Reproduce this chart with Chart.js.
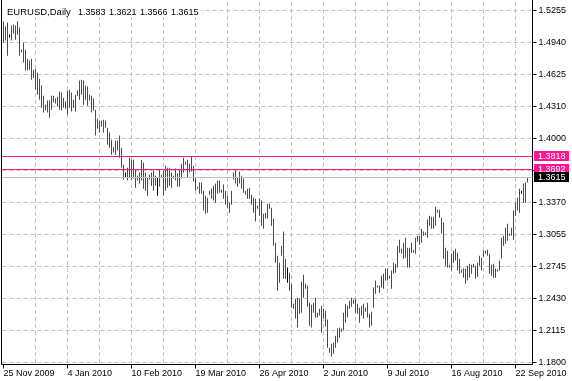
<!DOCTYPE html>
<html>
<head>
<meta charset="utf-8">
<script src="https://cdn.jsdelivr.net/npm/chart.js@4.4.1/dist/chart.umd.min.js"></script>
<style>
  html, body { margin: 0; padding: 0; background: #fff; }
  canvas { display: block; }
</style>
</head>
<body>
<canvas id="priceChart" width="572" height="381"></canvas>
<script>
// EURUSD daily bars, 25 Nov 2009 .. 22 Sep 2010
const symbolTitle = 'EURUSD,Daily';
const lastBar = [1.3583, 1.3621, 1.3566, 1.3615]; // O H L C in the corner

const xTickLabels = ['25 Nov 2009', '4 Jan 2010', '10 Feb 2010', '19 Mar 2010', '26 Apr 2010',
  '2 Jun 2010', '9 Jul 2010', '16 Aug 2010', '22 Sep 2010'];
const yTickLabels = ['1.1800', '1.2115', '1.2430', '1.2745', '1.3055', '1.3370',
  '1.3685', '1.4000', '1.4310', '1.4625', '1.4940', '1.5255'];

const highs = [
  1.5147, 1.5097, 1.5137, 1.5019, 1.5107, 1.5117, 1.5107, 1.5147, 1.5087, 1.4870,
  1.4940, 1.4870, 1.4782, 1.4764, 1.4782, 1.4674, 1.4684, 1.4646, 1.4586, 1.4518,
  1.4419, 1.4331, 1.4371, 1.4371, 1.4419, 1.4419, 1.4391, 1.4409, 1.4459, 1.4449,
  1.4399, 1.4361, 1.4469, 1.4478, 1.4449, 1.4379, 1.4429, 1.4469, 1.4568, 1.4576,
  1.4568, 1.4518, 1.4508, 1.4429, 1.4419, 1.4391, 1.4281, 1.4193, 1.4175, 1.4175,
  1.4183, 1.4175, 1.4105, 1.4057, 1.3987, 1.3918, 1.3978, 1.3978, 1.4027, 1.3908,
  1.3742, 1.3664, 1.3712, 1.3810, 1.3790, 1.3790, 1.3694, 1.3634, 1.3664, 1.3790,
  1.3762, 1.3664, 1.3614, 1.3644, 1.3664, 1.3684, 1.3634, 1.3614, 1.3694, 1.3644,
  1.3684, 1.3732, 1.3712, 1.3712, 1.3664, 1.3634, 1.3704, 1.3654, 1.3684, 1.3752,
  1.3810, 1.3772, 1.3790, 1.3752, 1.3820, 1.3732, 1.3614, 1.3526, 1.3566, 1.3566,
  1.3487, 1.3437, 1.3417, 1.3487, 1.3506, 1.3536, 1.3556, 1.3586, 1.3586, 1.3496,
  1.3546, 1.3487, 1.3437, 1.3369, 1.3487, 1.3664, 1.3684, 1.3614, 1.3674, 1.3634,
  1.3606, 1.3487, 1.3506, 1.3516, 1.3447, 1.3417, 1.3407, 1.3339, 1.3407, 1.3389,
  1.3261, 1.3271, 1.3359, 1.3359, 1.3319, 1.3213, 1.2976, 1.2848, 1.2780, 1.2946,
  1.3085, 1.2818, 1.2732, 1.2682, 1.2574, 1.2377, 1.2425, 1.2435, 1.2425, 1.2594,
  1.2662, 1.2574, 1.2555, 1.2387, 1.2367, 1.2387, 1.2435, 1.2289, 1.2327, 1.2357,
  1.2327, 1.2309, 1.2221, 1.1946, 1.1984, 1.1994, 1.2063, 1.2133, 1.2143, 1.2133,
  1.2289, 1.2377, 1.2357, 1.2407, 1.2435, 1.2417, 1.2425, 1.2377, 1.2337, 1.2357,
  1.2377, 1.2337, 1.2387, 1.2279, 1.2299, 1.2535, 1.2604, 1.2555, 1.2555, 1.2652,
  1.2672, 1.2722, 1.2722, 1.2652, 1.2702, 1.2780, 1.2770, 1.2946, 1.3006, 1.2916,
  1.2976, 1.3025, 1.2926, 1.2926, 1.2976, 1.2906, 1.3025, 1.3045, 1.3045, 1.3113,
  1.3085, 1.3075, 1.3203, 1.3241, 1.3231, 1.3231, 1.3329, 1.3299, 1.3299, 1.3221,
  1.3173, 1.2926, 1.2898, 1.2760, 1.2868, 1.2898, 1.2916, 1.2878, 1.2818, 1.2712,
  1.2722, 1.2722, 1.2750, 1.2770, 1.2760, 1.2770, 1.2750, 1.2780, 1.2848, 1.2828,
  1.2898, 1.2898, 1.2906, 1.2868, 1.2760, 1.2770, 1.2722, 1.2712, 1.2800, 1.3025,
  1.3045, 1.3123, 1.3163, 1.3065, 1.3123, 1.3291, 1.3369, 1.3417, 1.3506, 1.3487,
  1.3556, 1.3566, 1.3621
];
const lows = [
  1.4940, 1.4960, 1.4812, 1.4989, 1.4960, 1.5029, 1.4969, 1.5019, 1.4812, 1.4842,
  1.4744, 1.4666, 1.4666, 1.4674, 1.4576, 1.4596, 1.4478, 1.4429, 1.4379, 1.4301,
  1.4253, 1.4273, 1.4253, 1.4203, 1.4281, 1.4351, 1.4341, 1.4311, 1.4281, 1.4273,
  1.4301, 1.4291, 1.4233, 1.4301, 1.4263, 1.4301, 1.4263, 1.4419, 1.4379, 1.4429,
  1.4331, 1.4379, 1.4321, 1.4371, 1.4253, 1.4273, 1.4027, 1.4095, 1.4057, 1.4115,
  1.4057, 1.4105, 1.3938, 1.3908, 1.3840, 1.3860, 1.3840, 1.3880, 1.3810, 1.3712,
  1.3596, 1.3614, 1.3586, 1.3614, 1.3596, 1.3606, 1.3516, 1.3586, 1.3556, 1.3586,
  1.3506, 1.3487, 1.3437, 1.3596, 1.3536, 1.3487, 1.3536, 1.3437, 1.3526, 1.3614,
  1.3437, 1.3487, 1.3516, 1.3536, 1.3516, 1.3606, 1.3586, 1.3526, 1.3526, 1.3606,
  1.3664, 1.3742, 1.3614, 1.3664, 1.3674, 1.3576, 1.3487, 1.3506, 1.3457, 1.3457,
  1.3291, 1.3261, 1.3271, 1.3447, 1.3407, 1.3389, 1.3369, 1.3457, 1.3467, 1.3467,
  1.3407, 1.3349, 1.3319, 1.3271, 1.3349, 1.3596, 1.3556, 1.3526, 1.3556, 1.3506,
  1.3467, 1.3447, 1.3407, 1.3407, 1.3349, 1.3271, 1.3183, 1.3309, 1.3241, 1.3143,
  1.3113, 1.3213, 1.3213, 1.3309, 1.3143, 1.2946, 1.2780, 1.2505, 1.2584, 1.2848,
  1.2622, 1.2622, 1.2584, 1.2505, 1.2337, 1.2327, 1.2231, 1.2143, 1.2279, 1.2289,
  1.2435, 1.2525, 1.2347, 1.2161, 1.2143, 1.2289, 1.2241, 1.2241, 1.2261, 1.2093,
  1.2231, 1.2153, 1.1946, 1.1896, 1.1856, 1.1886, 1.1946, 1.1994, 1.2044, 1.2103,
  1.2113, 1.2191, 1.2241, 1.2327, 1.2347, 1.2377, 1.2289, 1.2279, 1.2191, 1.2261,
  1.2231, 1.2299, 1.2241, 1.2143, 1.2161, 1.2337, 1.2475, 1.2535, 1.2485, 1.2535,
  1.2525, 1.2604, 1.2604, 1.2622, 1.2525, 1.2672, 1.2682, 1.2732, 1.2878, 1.2868,
  1.2818, 1.2828, 1.2732, 1.2732, 1.2878, 1.2878, 1.2868, 1.2986, 1.2956, 1.2976,
  1.3045, 1.3055, 1.3025, 1.3143, 1.3113, 1.3113, 1.3143, 1.3271, 1.3221, 1.3065,
  1.2818, 1.2750, 1.2732, 1.2732, 1.2702, 1.2780, 1.2800, 1.2702, 1.2672, 1.2682,
  1.2632, 1.2574, 1.2604, 1.2632, 1.2672, 1.2732, 1.2622, 1.2642, 1.2750, 1.2702,
  1.2838, 1.2868, 1.2848, 1.2672, 1.2652, 1.2632, 1.2632, 1.2692, 1.2702, 1.2818,
  1.2946, 1.2966, 1.2996, 1.3045, 1.3045, 1.3006, 1.3241, 1.3291, 1.3271, 1.3457,
  1.3369, 1.3369, 1.3566
];
// u = close above open, d = below, n = doji
const barDir = ('uudnduuudu ddudduuddd duuduuddud duududuuuu ddduddduud ' +
  'duddduuudd dndudddudu ddudddunud duuddudduu udduddddud ' +
  'dduuduuduu ddduudduud duudddudud uudddddduu ddnddudduu ' +
  'uudududuud udduduuuud uududdduuu dudduuuddu uuduuuuudd ' +
  'udduduuduu duuuduudud ddduuuuddu dduuuduuuu dudddduduu ' +
  'uududuudun duu').replace(/ /g, '');

const levelLines = [1.3818, 1.3692];  // magenta lines
const bidLine = 1.3615;

const nSlots = 265; // 2px per bar slot
const yMin = 1.178037;
const yMax = 1.533843;

const barLabels = [];
for (let i = 0; i < nSlots; i++) barLabels.push(i % 32 === 0 && xTickLabels[i / 32] ? xTickLabels[i / 32] : '');

const dirColor = { u: '#008000', d: '#ff0000', n: '#000000' };
const barColors = barDir.split('').map(c => dirColor[c]);

const FONT = 'Liberation Sans';
const MAGENTA = '#ff1493';
const GRID = '#c0c0c0';

const decor = {
  id: 'decor',
  afterDatasetsDraw(chart) {
    const { ctx, chartArea: a, scales: { y } } = chart;
    ctx.save();
    ctx.lineWidth = 1;
    const hline = (v, color) => {
      const py = Math.floor(y.getPixelForValue(v)) + 0.5;
      ctx.strokeStyle = color;
      ctx.beginPath();
      ctx.moveTo(1, py);
      ctx.lineTo(a.right, py);
      ctx.stroke();
    };
    hline(bidLine, GRID);
    levelLines.forEach(v => hline(v, MAGENTA));
    ctx.restore();
  },
  afterDraw(chart) {
    const { ctx, chartArea: a, scales: { y } } = chart;
    ctx.save();
    // frame: left side and top of the right side
    ctx.strokeStyle = '#000';
    ctx.lineWidth = 1;
    ctx.beginPath();
    ctx.moveTo(1.5, 0);
    ctx.lineTo(1.5, a.bottom);
    ctx.lineTo(a.left + 1, a.bottom);
    ctx.stroke();
    ctx.beginPath();
    ctx.moveTo(a.right, 0);
    ctx.lineTo(a.right, a.top);
    ctx.stroke();

    // title block
    ctx.fillStyle = '#fff';
    ctx.fillRect(3, 2, 198, 15);
    ctx.fillStyle = '#000';
    ctx.font = '9.5px "' + FONT + '"';
    ctx.textBaseline = 'alphabetic';
    ctx.fillText(symbolTitle, 7, 15);
    ctx.font = '9px "' + FONT + '"';
    lastBar.forEach((v, k) => ctx.fillText(v.toFixed(4), 78 + 31 * k, 15));

    // price tags on the right axis
    const tags = [[levelLines[0], MAGENTA], [levelLines[1], MAGENTA], [bidLine, '#000']];
    ctx.textBaseline = 'middle';
    tags.forEach(([v, c]) => {
      const py = Math.floor(y.getPixelForValue(v));
      ctx.fillStyle = c;
      ctx.fillRect(534, py - 5, 35, 10);
      ctx.fillStyle = '#fff';
      ctx.fillText(v.toFixed(4), 538, py + 0.5);
    });
    ctx.restore();
  }
};

new Chart(document.getElementById('priceChart'), {
  type: 'bar',
  data: {
    labels: barLabels,
    datasets: [{
      data: highs.map((h, i) => [lows[i], h]),
      backgroundColor: barColors,
      barThickness: 1,
      borderWidth: 0,
      inflateAmount: 0
    }]
  },
  options: {
    responsive: false,
    animation: false,
    devicePixelRatio: 1,
    events: [],
    layout: { padding: { left: 2.5, top: 2, right: 0, bottom: 0 } },
    plugins: { legend: { display: false }, tooltip: { enabled: false } },
    scales: {
      x: {
        offset: true,
        grid: {
          offset: false,
          color: c => (c.tick && c.tick.value === 0) ? 'rgba(0,0,0,0)' : GRID,
          tickLength: 4,
          tickColor: c => (c.tick && c.tick.value % 32 === 0) ? '#000' : 'rgba(0,0,0,0)',
          tickBorderDash: []
        },
        border: { color: '#000', width: 1, dash: [4, 3] },
        ticks: {
          autoSkip: false, maxRotation: 0, minRotation: 0, align: 'start', padding: 0,
          color: '#000', font: { family: FONT, size: 9 },
          callback: v => (v % 32 === 0 ? (xTickLabels[v / 32] || '') : '')
        },
        afterBuildTicks: s => { s.ticks = s.ticks.filter(t => t.value % 16 === 0); },
        afterFit: s => { s.height = 16.5; s.paddingLeft = 0; s.paddingRight = 0; }
      },
      y: {
        position: 'right',
        min: yMin,
        max: yMax,
        grid: { color: GRID, tickLength: 4, tickColor: '#000', tickBorderDash: [] },
        border: { color: '#000', width: 1, dash: [4, 3] },
        ticks: {
          padding: 2, color: '#000', font: { family: FONT, size: 9 },
          callback: v => v.toFixed(4)
        },
        afterBuildTicks: s => { s.ticks = yTickLabels.map(t => ({ value: parseFloat(t) })); },
        afterFit: s => { s.width = 39.5; s.paddingTop = 0; s.paddingBottom = 0; }
      }
    }
  },
  plugins: [decor]
});
</script>
</body>
</html>
